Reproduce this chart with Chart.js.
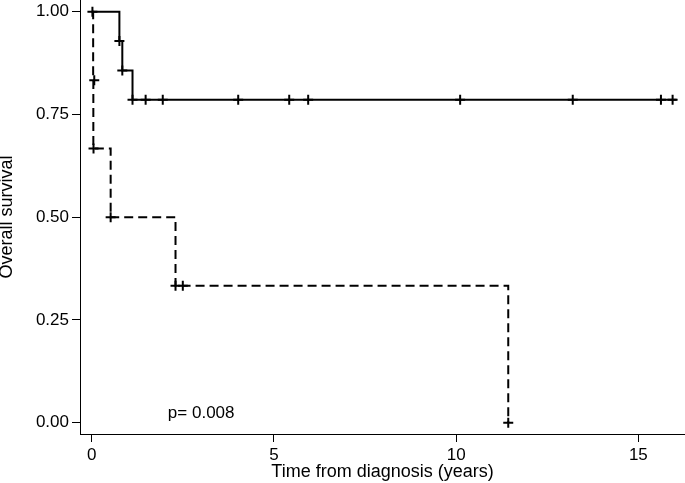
<!DOCTYPE html>
<html>
<head>
<meta charset="utf-8">
<script src="https://cdn.jsdelivr.net/npm/chart.js@4/dist/chart.umd.min.js"></script>
<style>
html, body { margin: 0; padding: 0; background: #fff; }
</style>
</head>
<body>
<canvas id="km_chart" width="685" height="483"></canvas>
<script>
// group 1 (solid line) - step points and censor marks
var solidTime = [0, 0.76, 0.84, 1.12, 16.05];
var solidSurv = [1.0, 0.929, 0.857, 0.786, 0.786];
var solidCensTime = [0.76, 0.84, 1.12, 1.48, 1.95, 4.02, 5.42, 5.94, 10.11, 13.2, 15.62, 15.94];
var solidCensSurv = [0.929, 0.857, 0.786, 0.786, 0.786, 0.786, 0.786, 0.786, 0.786, 0.786, 0.786, 0.786];

// group 2 (dashed line)
var dashTime = [0, 0.04, 0.045, 0.52, 2.3, 11.43];
var dashSurv = [1.0, 0.833, 0.667, 0.5, 0.333, 0.0];
var dashCensTime = [0.02, 0.07, 0.05, 0.52, 2.3, 2.5, 11.43];
var dashCensSurv = [1.0, 0.833, 0.667, 0.5, 0.333, 0.333, 0.0];

var xTicks = [0, 5, 10, 15];
var yTicks = [0, 0.25, 0.5, 0.75, 1.0];

var pText = 'p= 0.008';
var pPos = { x: 2.09, y: 0.024 };

var FONT = "'Liberation Sans', Arial, sans-serif";

function toPoints(xs, ys) {
	var pts = [];
	for (var i = 0; i < xs.length; i++) {
		pts.push({ x: xs[i], y: ys[i] });
	}
	return pts;
}

// no extra room for labels, axes sit right at the canvas edges
function noPadding(scale) {
	scale.paddingTop = 0;
	scale.paddingBottom = 0;
	scale.paddingLeft = 0;
	scale.paddingRight = 0;
}

// writes the p-value inside the plot
var pValuePlugin = {
	id: 'pvalue',
	afterDatasetsDraw: function(chart) {
		var c = chart.ctx;
		c.save();
		c.font = '17px ' + FONT;
		c.fillStyle = '#000';
		c.textAlign = 'left';
		c.textBaseline = 'middle';
		c.fillText(pText, chart.scales.x.getPixelForValue(pPos.x), chart.scales.y.getPixelForValue(pPos.y));
		c.restore();
	}
};

var ctx = document.getElementById('km_chart').getContext('2d');
var chart = new Chart(ctx, {
	type: 'scatter',
	data: {
		datasets: [{
			data: toPoints(solidTime, solidSurv),
			showLine: true,
			stepped: 'before',
			borderColor: '#000',
			borderWidth: 2,
			pointRadius: 0
		}, {
			data: toPoints(dashTime, dashSurv),
			showLine: true,
			stepped: 'before',
			borderColor: '#000',
			borderWidth: 2,
			borderDash: [9, 5],
			pointRadius: 0
		}, {
			data: toPoints(solidCensTime, solidCensSurv),
			showLine: false,
			pointStyle: 'cross',
			pointRadius: 5,
			borderColor: '#000',
			borderWidth: 2
		}, {
			data: toPoints(dashCensTime, dashCensSurv),
			showLine: false,
			pointStyle: 'cross',
			pointRadius: 5,
			borderColor: '#000',
			borderWidth: 2
		}]
	},
	options: {
		responsive: false,
		animation: false,
		devicePixelRatio: 1,
		layout: { padding: 0, autoPadding: false },
		plugins: {
			legend: { display: false },
			tooltip: { enabled: false }
		},
		scales: {
			x: {
				type: 'linear',
				min: -0.321,
				max: 16.28,
				afterBuildTicks: function(scale) {
					scale.ticks = xTicks.map(function(v) { return { value: v }; });
				},
				afterFit: function(scale) {
					scale.height = 49;
					noPadding(scale);
				},
				grid: { drawOnChartArea: false, drawTicks: true, tickLength: 8, color: '#000', lineWidth: 1 },
				border: { display: true, color: '#000', width: 1 },
				ticks: { color: '#000', font: { family: FONT, size: 17 }, padding: 3, maxRotation: 0 },
				title: {
					display: true,
					text: 'Time from diagnosis (years)',
					color: '#000',
					font: { family: FONT, size: 18 },
					padding: { top: 0, bottom: 0 }
				}
			},
			y: {
				type: 'linear',
				min: -0.0275,
				max: 1.0285,
				afterBuildTicks: function(scale) {
					scale.ticks = yTicks.map(function(v) { return { value: v }; });
				},
				afterFit: function(scale) {
					scale.width = 80;
					noPadding(scale);
				},
				grid: { drawOnChartArea: false, drawTicks: true, tickLength: 8, color: '#000', lineWidth: 1 },
				border: { display: true, color: '#000', width: 1 },
				ticks: {
					color: '#000',
					font: { family: FONT, size: 17 },
					padding: 3,
					callback: function(v) { return v.toFixed(2); }
				},
				title: {
					display: true,
					text: 'Overall survival',
					color: '#000',
					font: { family: FONT, size: 18 },
					padding: { top: -4, bottom: 0 }
				}
			}
		}
	},
	plugins: [pValuePlugin]
});
</script>
</body>
</html>
